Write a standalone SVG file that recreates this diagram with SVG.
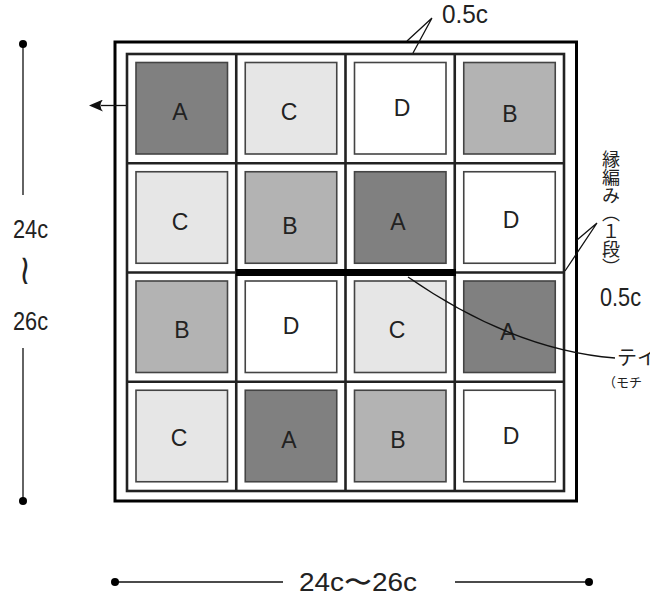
<svg xmlns="http://www.w3.org/2000/svg" width="650" height="599" viewBox="0 0 650 599">
<defs>
<style>
.sq{stroke:#444;stroke-width:1.6}
.a{fill:#808080}.b{fill:#b3b3b3}.c{fill:#e6e6e6}.d{fill:#fff}
.lt{font-family:"Liberation Sans",Arial,sans-serif;font-size:23px;fill:#222;text-anchor:middle}
.grid{fill:none;stroke:#222;stroke-width:2.6}
.ln{fill:none;stroke:#111;stroke-width:1.3}
.dim{font-family:"Liberation Sans",Arial,sans-serif;font-size:25px;fill:#222}
.jp{font-family:"Noto Sans CJK JP",sans-serif;fill:#222}
</style>
<marker id="arr" viewBox="0 0 14 12" refX="2" refY="6" markerWidth="14" markerHeight="12" markerUnits="userSpaceOnUse" orient="auto">
<path d="M14,6 L0,0 Q5,6 0,12 Z" fill="#111"/>
</marker>
</defs>
<rect x="0" y="0" width="650" height="599" fill="#fff"/>

<g id="frame">
<rect x="115" y="42" width="461.5" height="459" fill="#fff" stroke="#000" stroke-width="3"/>
<rect x="127" y="54" width="437" height="437" class="grid"/>
<path class="grid" d="M236.25,54V491M345.5,54V491M454.75,54V491M127,163.25H564M127,272.5H564M127,381.75H564"/>
</g>

<g id="r0c0"><rect class="sq a" x="136" y="62.5" width="91.5" height="91.5"/><text class="lt" x="180" y="120">A</text></g>
<g id="r0c1"><rect class="sq c" x="245.25" y="62.5" width="91.5" height="91.5"/><text class="lt" x="289" y="120">C</text></g>
<g id="r0c2"><rect class="sq d" x="354.5" y="62.5" width="91.5" height="91.5"/><text class="lt" x="402" y="116">D</text></g>
<g id="r0c3"><rect class="sq b" x="463.75" y="62.5" width="91.5" height="91.5"/><text class="lt" x="510" y="122">B</text></g>

<g id="r1c0"><rect class="sq c" x="136" y="171.75" width="91.5" height="91.5"/><text class="lt" x="180" y="230">C</text></g>
<g id="r1c1"><rect class="sq b" x="245.25" y="171.75" width="91.5" height="91.5"/><text class="lt" x="290" y="234">B</text></g>
<g id="r1c2"><rect class="sq a" x="354.5" y="171.75" width="91.5" height="91.5"/><text class="lt" x="398" y="230">A</text></g>
<g id="r1c3"><rect class="sq d" x="463.75" y="171.75" width="91.5" height="91.5"/><text class="lt" x="511" y="228">D</text></g>

<g id="r2c0"><rect class="sq b" x="136" y="281" width="91.5" height="91.5"/><text class="lt" x="182" y="338">B</text></g>
<g id="r2c1"><rect class="sq d" x="245.25" y="281" width="91.5" height="91.5"/><text class="lt" x="291" y="334">D</text></g>
<g id="r2c2"><rect class="sq c" x="354.5" y="281" width="91.5" height="91.5"/><text class="lt" x="397" y="338">C</text></g>
<g id="r2c3"><rect class="sq a" x="463.75" y="281" width="91.5" height="91.5"/><text class="lt" x="508" y="340">A</text></g>

<g id="r3c0"><rect class="sq c" x="136" y="390.25" width="91.5" height="91.5"/><text class="lt" x="179" y="446">C</text></g>
<g id="r3c1"><rect class="sq a" x="245.25" y="390.25" width="91.5" height="91.5"/><text class="lt" x="289" y="448">A</text></g>
<g id="r3c2"><rect class="sq b" x="354.5" y="390.25" width="91.5" height="91.5"/><text class="lt" x="398" y="448">B</text></g>
<g id="r3c3"><rect class="sq d" x="463.75" y="390.25" width="91.5" height="91.5"/><text class="lt" x="511" y="444">D</text></g>

<g id="seam"><rect x="236" y="269" width="220" height="7" fill="#000"/></g>

<g id="connectors">
<path class="ln" d="M126,105.5H101" marker-end="url(#arr)"/>
<path class="ln" d="M432,18L407,41M432,18L413,53"/>
<path class="ln" d="M597,223L577,240M597,223L565,271"/>
<path class="ln" d="M408,277C470,320 540,352 615,358"/>
<path class="ln" d="M23,44V195M23,348V501"/>
<circle cx="23" cy="44" r="4" fill="#000"/>
<circle cx="23" cy="501" r="4" fill="#000"/>
<path class="ln" d="M115,582H283M455,582H589"/>
<circle cx="115" cy="582" r="4" fill="#000"/>
<circle cx="589" cy="582" r="4" fill="#000"/>
</g>

<g id="labels">
<text class="dim" x="442" y="23" textLength="46" lengthAdjust="spacingAndGlyphs">0.5c</text>
<text class="dim" x="600" y="306" textLength="41" lengthAdjust="spacingAndGlyphs">0.5c</text>
<text class="dim" x="13" y="238" textLength="35" lengthAdjust="spacingAndGlyphs">24c</text>
<text transform="translate(25,284) scale(0.75,1)" font-family="DejaVu Sans,sans-serif" font-size="42" fill="#222" text-anchor="middle">≀</text>
<text class="dim" x="13" y="330" textLength="35" lengthAdjust="spacingAndGlyphs">26c</text>
<text class="dim" x="299" y="591" textLength="118" lengthAdjust="spacingAndGlyphs">24c〜26c</text>
<text class="jp" x="611" y="150" font-size="18" writing-mode="vertical-rl" style="writing-mode:vertical-rl">縁編み（１段）</text>
<text class="jp" x="617" y="365" font-size="20">テイ</text>
<text class="jp" x="603" y="387" font-size="13">（モチ</text>
</g>
</svg>
